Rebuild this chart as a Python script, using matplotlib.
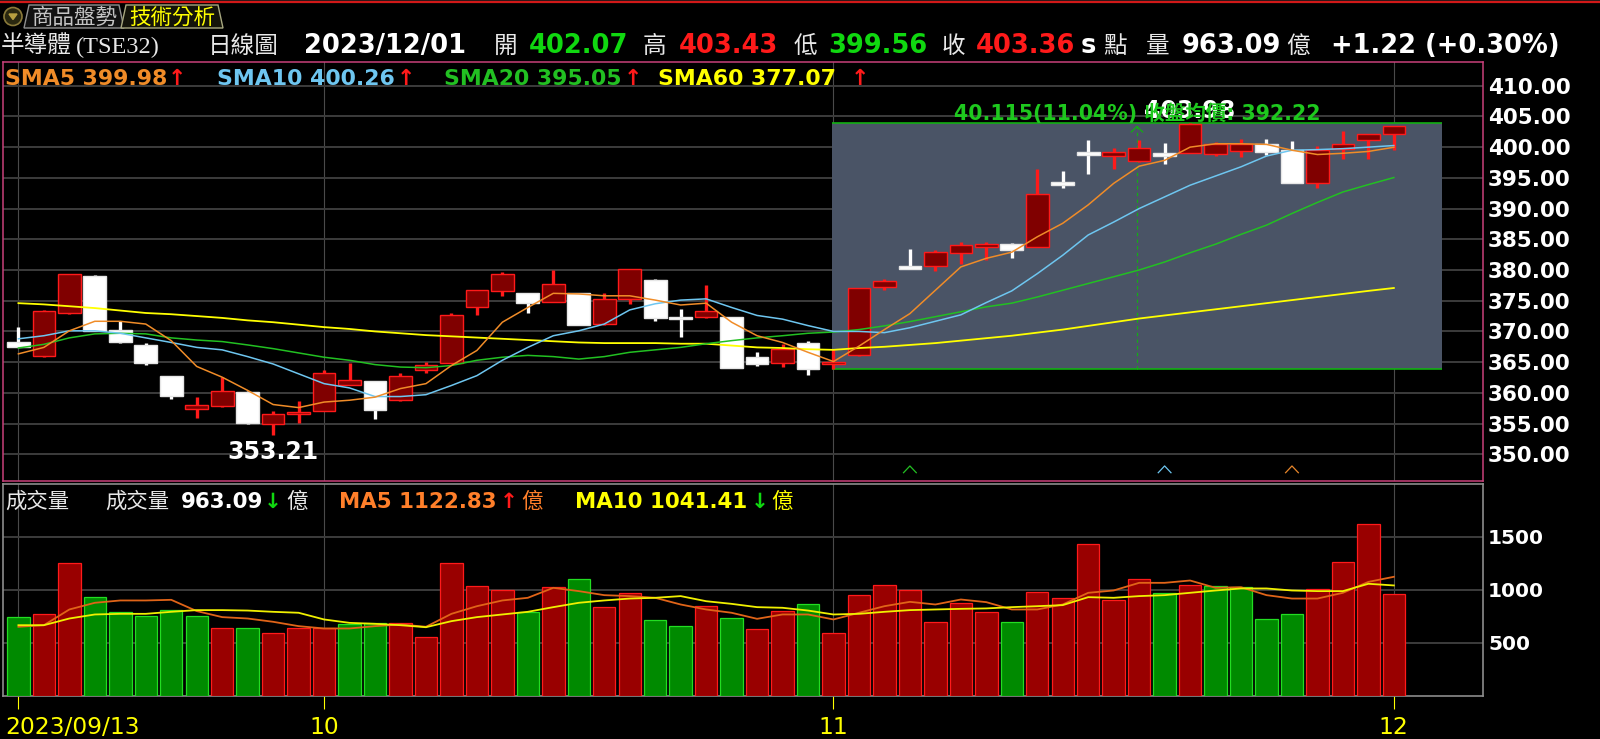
#!/usr/bin/env python3
"""TSE32 semiconductor index daily candles with SMA lines and a volume panel."""

import matplotlib

matplotlib.use("Agg")
import matplotlib.pyplot as plt
from matplotlib.patches import Circle, Polygon, Rectangle

plt.rcParams["font.family"] = ["DejaVu Sans", "Noto Sans CJK TC"]

W, H = 1600, 739

# trading days 2023/09/13 .. 2023/12/01 -> index 0..54
month_idx = [0, 12, 32, 54]
month_labels = ["2023/09/13", "10", "11", "12"]

opens = [368.3, 366.0, 373.0, 379.1, 370.3, 367.8, 362.7, 357.4, 357.9, 360.2,
         355.0, 356.6, 357.1, 361.3, 361.85, 358.8, 363.8, 364.9, 373.9, 376.5,
         376.2, 374.85, 376.2, 371.2, 375.3, 378.4, 372.4, 372.3, 372.3, 365.8,
         364.8, 368.1, 364.7, 366.1, 377.3, 380.7, 380.6, 382.8, 383.8, 384.2,
         383.8, 394.3, 399.2, 398.5, 397.7, 399.0, 399.05, 398.9, 399.3, 400.55,
         399.5, 394.2, 399.75, 401.2, 402.07]
highs = [370.8, 373.5, 379.4, 379.2, 371.7, 368.1, 362.8, 359.25, 362.6, 360.3,
         357.1, 358.75, 363.8, 364.9, 361.9, 363.25, 365.0, 373.0, 376.8, 379.6,
         376.3, 380.0, 376.3, 376.2, 380.2, 378.5, 373.65, 377.6, 372.4, 366.7,
         368.0, 368.4, 367.2, 377.1, 378.6, 383.4, 383.2, 384.6, 384.6, 384.4,
         396.5, 396.1, 401.1, 399.9, 401.2, 400.6, 403.98, 400.8, 401.3, 401.3,
         401.0, 400.2, 402.55, 402.2, 403.43]
lows = [367.4, 365.9, 372.8, 370.0, 368.1, 364.6, 359.0, 355.95, 357.7, 355.0,
        353.21, 355.1, 357.0, 361.2, 355.8, 358.6, 363.2, 364.8, 372.7, 375.7,
        373.0, 374.8, 371.0, 371.1, 374.4, 371.75, 369.05, 372.2, 364.0, 364.35,
        364.2, 362.9, 363.865, 366.0, 376.7, 380.1, 379.9, 381.05, 381.6, 381.9,
        383.7, 393.35, 395.7, 396.4, 397.5, 397.2, 399.0, 398.55, 398.4, 398.7,
        394.1, 393.35, 398.0, 398.0, 399.56]
closes = [367.45, 373.4, 379.35, 370.1, 368.2, 364.9, 359.5, 357.95, 360.3, 355.1,
          356.6, 356.95, 363.3, 362.1, 357.25, 362.8, 364.55, 372.7, 376.75, 379.35,
          374.6, 377.7, 371.1, 375.3, 380.15, 372.2, 372.1, 373.3, 364.1, 364.7,
          367.2, 363.9, 364.95, 377.05, 378.24, 380.13, 382.95, 384.0, 384.3, 383.2,
          392.3, 393.8, 398.8, 399.15, 399.9, 398.6, 403.7, 400.55, 400.5, 399.2,
          394.2, 399.5, 400.45, 402.14, 403.36]

sma5 = [366.35, 367.4, 370.1, 371.65, 371.65, 371.2, 368.5, 364.3, 362.55, 360.4,
        358.1, 357.6, 358.5, 358.8, 359.3, 360.7, 361.5, 364.45, 366.9, 371.5,
        373.9, 376.2, 376.1, 375.8, 375.8, 375.1, 374.3, 374.6, 371.5, 369.3,
        368.2, 366.6, 365.1, 367.6, 370.3, 372.9, 376.7, 380.5, 381.9, 382.9,
        385.4, 387.6, 390.6, 394.1, 396.9, 397.85, 400.0, 400.55, 400.55, 400.45,
        399.5, 398.8, 399.0, 399.3, 399.98]
sma10 = [368.8, 369.3, 370.1, 370.1, 369.7, 368.95, 368.2, 367.4, 367.0, 365.9,
         364.7, 363.1, 361.5, 360.8, 359.4, 359.4, 359.7, 361.2, 362.8, 365.3,
         367.4, 369.3, 370.1, 371.2, 373.5, 374.5, 375.1, 375.3, 373.9, 372.6,
         372.0, 370.95, 370.0, 370.0, 369.8, 370.6, 371.65, 372.7, 374.7, 376.6,
         379.4, 382.4, 385.7, 387.8, 390.0, 391.9, 393.8, 395.3, 396.8, 398.55,
         399.5, 399.6, 399.75, 400.0, 400.26]
sma20 = [367.3, 367.9, 368.95, 369.6, 369.7, 369.6, 368.95, 368.6, 368.35, 367.8,
         367.2, 366.5, 365.8, 365.3, 364.6, 364.2, 364.1, 364.45, 365.3, 365.8,
         366.1, 365.9, 365.5, 365.9, 366.6, 367.0, 367.4, 368.0, 368.5, 368.95,
         369.3, 369.7, 369.9, 370.3, 370.9, 371.6, 372.4, 373.2, 374.0, 374.6,
         375.6, 376.7, 377.8, 378.9, 380.0, 381.3, 382.8, 384.2, 385.8, 387.3,
         389.2, 391.0, 392.7, 393.9, 395.05]
sma60 = [374.6, 374.4, 374.1, 373.8, 373.4, 373.0, 372.8, 372.5, 372.2, 371.8,
         371.5, 371.1, 370.7, 370.4, 370.0, 369.7, 369.4, 369.2, 369.0, 368.8,
         368.6, 368.4, 368.2, 368.1, 368.1, 368.1, 368.0, 368.0, 367.7, 367.4,
         367.3, 367.1, 367.0, 367.3, 367.5, 367.8, 368.1, 368.5, 368.9, 369.3,
         369.8, 370.3, 370.9, 371.5, 372.1, 372.6, 373.1, 373.6, 374.1, 374.6,
         375.1, 375.6, 376.1, 376.6, 377.07]

volumes = [746, 774, 1254, 934, 793, 758, 812, 758, 642, 642,
           595, 645, 636, 674, 683, 683, 557, 1254, 1038, 997,
           793, 1028, 1100, 840, 966, 718, 661, 849, 736, 633,
           805, 862, 595, 953, 1044, 994, 699, 878, 787, 699,
           981, 925, 1433, 906, 1100, 972, 1050, 1038, 1028, 727,
           774, 1010, 1258, 1619, 963.09]
# 1 = red (close above previous close), 0 = green
vol_up = [0, 1, 1, 0, 0, 0, 0, 0, 1, 0,
          1, 1, 1, 0, 0, 1, 1, 1, 1, 1,
          0, 1, 0, 1, 1, 0, 0, 1, 0, 1,
          1, 0, 1, 1, 1, 1, 1, 1, 1, 0,
          1, 1, 1, 1, 1, 0, 1, 0, 0, 0,
          0, 1, 1, 1, 1]
vol_ma5 = [652, 667, 815, 878, 900, 900, 906, 800, 743, 730,
           699, 658, 636, 636, 658, 674, 652, 774, 846, 900,
           925, 1019, 988, 950, 941, 925, 862, 815, 784, 727,
           768, 768, 721, 784, 846, 887, 862, 909, 884, 815,
           815, 862, 972, 994, 1066, 1066, 1088, 1019, 1025, 950,
           918, 918, 972, 1075, 1122.83]
vol_ma10 = [667, 667, 730, 768, 774, 774, 793, 809, 809, 805,
            793, 784, 721, 689, 680, 667, 648, 705, 743, 768,
            793, 837, 878, 900, 918, 925, 941, 893, 868, 837,
            831, 805, 768, 774, 793, 809, 815, 821, 825, 837,
            846, 856, 931, 925, 941, 950, 972, 994, 1013, 1013,
            994, 988, 988, 1057, 1041.41]

# range box drawn over November
box_first, box_last = 32, 54
box_high = 403.98
box_diff = 40.115
box_pct = 11.04
box_avg = 392.22

# small cross markers along the bottom of the price panel
cross_idx = [35, 45, 50]
cross_colors = ["#22c022", "#6ec6f0", "#e8862a"]

price_ticks = [350, 355, 360, 365, 370, 375, 380, 385, 390, 395, 400, 405, 410]
vol_ticks = [500, 1000, 1500]

RED, GREEN, WHITE = "#ff1a1a", "#10d810", "#ffffff"
SMA_COLORS = ["#f08c28", "#6ec6f0", "#22c022", "#ffff00"]


def px_box(left, top, right, bottom):
    return [left / W, 1 - bottom / H, (right - left) / W, (bottom - top) / H]


fig = plt.figure(figsize=(W / 100, H / 100), dpi=100, facecolor="black")
ax = fig.add_axes(px_box(3, 62, 1483, 481), facecolor="black")
axv = fig.add_axes(px_box(3, 484, 1483, 696), facecolor="black")
ov = fig.add_axes([0, 0, 1, 1])
ov.set_xlim(0, W)
ov.set_ylim(H, 0)
ov.axis("off")
ov.set_zorder(10)

xs = list(range(len(closes)))
xlim = (-0.605, 57.5)

# ---- price panel -------------------------------------------------------
ax.set_xlim(*xlim)
ax.set_ylim(345.65, 413.86)

box_low = box_high - box_diff
box_left, box_right = box_first - 0.06, box_last + 1.89
box_mid = (box_left + box_right) / 2
ax.add_patch(Rectangle((box_left, box_low), box_right - box_left, box_diff,
                       facecolor="#4a5466", edgecolor="none", zorder=1))
ax.hlines([box_low, box_high], box_left, box_right, color="#12b012", lw=1.2, zorder=2)
ax.vlines(box_mid, box_low, box_high, color="#12b012", lw=0.8, linestyles=(0, (3, 3)), zorder=2)
ax.plot([box_mid - 0.22, box_mid, box_mid + 0.22], [box_high - 1.5, box_high - 0.6, box_high - 1.5],
        color="#12b012", lw=0.9, zorder=2)

for s, col, lw in zip([sma60, sma20, sma10, sma5], SMA_COLORS[::-1], [1.3, 1.1, 1.1, 1.1]):
    ax.plot(xs, s, color=col, lw=lw, zorder=6)

is_up = [c >= o for o, c in zip(opens, closes)]
heights, bottoms = [], []
for o, c in zip(opens, closes):
    hgt = max(abs(c - o), 0.35)
    bottoms.append((o + c) / 2 - hgt / 2)
    heights.append(hgt)
ax.vlines(xs, lows, highs, colors=[RED if u else WHITE for u in is_up], lw=2.4, zorder=4)
ax.bar(xs, heights, bottom=bottoms, width=0.89,
       color=["#800000" if u else WHITE for u in is_up],
       edgecolor=[RED if u else "#e6e6e6" for u in is_up], linewidth=1.0, zorder=5)

for i, col in zip(cross_idx, cross_colors):
    ax.plot([i - 0.25, i, i + 0.25], [347.0, 348.1, 347.0], color=col, lw=0.9, zorder=6)

i_max = highs.index(max(highs))
i_min = lows.index(min(lows))
ax.annotate(f"{highs[i_max]:.2f}", (i_max, highs[i_max]), xytext=(0, 3.2), textcoords="offset points",
            ha="center", va="baseline", color=WHITE, fontsize=17, fontweight="bold", zorder=7)
ax.annotate(f"{lows[i_min]:.2f}", (i_min, lows[i_min]), xytext=(0, -17.4), textcoords="offset points",
            ha="center", va="baseline", color=WHITE, fontsize=17, fontweight="bold", zorder=7)
ax.annotate(f"{box_diff:.3f}({box_pct:.2f}%) 收盤均價: {box_avg:.2f}", (box_mid, box_high),
            xytext=(0, 2), textcoords="offset points", ha="center", va="baseline",
            color="#1ec81e", fontsize=14.8, fontweight="bold", zorder=8)

ax.set_xticks(month_idx)
ax.tick_params(axis="x", length=0, labelbottom=False)
ax.yaxis.tick_right()
ax.set_yticks(price_ticks, [f"{v:.2f}" for v in price_ticks],
              fontsize=15.5, fontweight="bold", color=WHITE)
ax.tick_params(axis="y", length=0, pad=3.6)
for sp in ax.spines.values():
    sp.set_color("#c8407a")
    sp.set_linewidth(1.1)

# ---- volume panel ------------------------------------------------------
axv.set_xlim(*xlim)
axv.set_ylim(0, 1997)
axv.bar(xs, volumes, width=0.88,
        color=["#990000" if u else "#008a00" for u in vol_up],
        edgecolor=["#ff1a1a" if u else "#22dd22" for u in vol_up], linewidth=0.9, zorder=3)
axv.plot(xs, vol_ma5, color="#e06418", lw=1.3, zorder=4)
axv.plot(xs, vol_ma10, color="#f0f000", lw=1.3, zorder=4)

axv.set_xticks(month_idx)
axv.tick_params(axis="x", length=9.3, width=0.8, color="#ffff00", labelbottom=False)
axv.yaxis.tick_right()
axv.set_yticks(vol_ticks, [str(v) for v in vol_ticks], fontsize=14.5, fontweight="bold", color=WHITE)
axv.tick_params(axis="y", length=0, pad=3.6)
for sp in axv.spines.values():
    sp.set_color("#8c8c8c")
    sp.set_linewidth(1.2)

for i, lab in zip(month_idx, month_labels):
    first = i == month_idx[0]
    axv.annotate(lab, xy=(i, 0), xycoords=("data", "axes fraction"),
                 xytext=(-9.6 if first else 0, -27.6), textcoords="offset points",
                 ha="left" if first else "center", va="baseline",
                 color="#ffff00", fontsize=16.8, annotation_clip=False)

for a in (ax, axv):
    a.set_axisbelow(True)
    a.grid(axis="y", color="#3c3c3c", linewidth=1.4)
    a.grid(axis="x", color="#4a4a4a", linewidth=0.8)


# ---- header and legends (pixel coordinates) ----------------------------
def put(x, y, s, color, size, weight="normal", family=None):
    kw = {"family": family} if family else {}
    ov.text(x, y, s, color=color, fontsize=size, fontweight=weight, ha="left", va="baseline", **kw)


def arrow(vals):
    return ("↑", RED) if vals[-1] >= vals[-2] else ("↓", GREEN)


CJK = ["Noto Sans CJK TC", "DejaVu Sans"]
SERIF = ["Liberation Serif", "Noto Sans CJK TC"]
LIGHT = "#e8e8e8"

ov.plot([0, W], [0.6, 0.6], color="#808080", lw=1.0)
ov.plot([0, W], [2.4, 2.4], color="#d01818", lw=1.6)
ov.add_patch(Circle((13, 16.5), 9, facecolor="#2a2810", edgecolor="#8a7a3a", lw=1.2))
ov.add_patch(Polygon([(9, 14), (17, 14), (13, 19.5)], closed=True, color="#b8a040"))
ov.add_patch(Polygon([(24, 28), (29, 5), (119, 5), (124, 28)], closed=True,
                     facecolor="#111111", edgecolor="#909090", lw=1.0))
ov.add_patch(Polygon([(121, 28), (126, 5), (218, 5), (223, 28)], closed=True,
                     facecolor="#14140a", edgecolor="#a8a880", lw=1.0))
put(32, 24, "商品盤勢", "#c4c4c4", 15.5, family=CJK)
put(129, 24, "技術分析", "#ffff00", 15.5, family=CJK)

last = len(closes) - 1
chg = closes[last] - closes[last - 1]
pct = chg / closes[last - 1] * 100
BASE = 53
put(1, BASE, "半導體", LIGHT, 17, family=CJK)
put(76, BASE, "(TSE32)", LIGHT, 17.5, family=SERIF)
put(208, BASE, "日線圖", LIGHT, 17, family=CJK)
put(304, BASE, "2023/12/01", WHITE, 18.5, "bold")
put(494, BASE, "開", LIGHT, 17, family=CJK)
put(529, BASE, f"{opens[last]:.2f}", GREEN, 18.5, "bold")
put(643, BASE, "高", LIGHT, 17, family=CJK)
put(679, BASE, f"{highs[last]:.2f}", RED, 18.5, "bold")
put(794, BASE, "低", LIGHT, 17, family=CJK)
put(828, BASE, f"{lows[last]:.2f}", GREEN, 18.5, "bold")
put(942, BASE, "收", LIGHT, 17, family=CJK)
put(976, BASE, f"{closes[last]:.2f}", RED, 18.5, "bold")
put(1081, BASE, "s", WHITE, 18.5, "bold")
put(1103, BASE, "點", LIGHT, 17, family=CJK)
put(1146, BASE, "量", LIGHT, 17, family=CJK)
put(1182, BASE, f"{volumes[last]:.2f}", WHITE, 18.5, "bold")
put(1286, BASE, "億", LIGHT, 17, family=CJK)
put(1331, BASE, f"{chg:+.2f} ({pct:+.2f}%)", WHITE, 18.5, "bold")

SBASE = 85
sma_x = [(5, 168), (217, 397), (444, 624), (658, 851)]
for (tx, axx), name, s, col in zip(sma_x, ["SMA5", "SMA10", "SMA20", "SMA60"],
                                   [sma5, sma10, sma20, sma60], SMA_COLORS):
    put(tx, SBASE, f"{name} {s[-1]:.2f}", col, 15.8, "bold")
    a, acol = arrow(s)
    put(axx, SBASE, a, acol, 15.8, "bold")

VBASE = 508
put(5, VBASE, "成交量", LIGHT, 15.4, family=CJK)
put(105, VBASE, "成交量", LIGHT, 15.4, family=CJK)
put(181, VBASE, f"{volumes[-1]:.2f}", WHITE, 15.4, "bold")
a, acol = arrow(volumes)
put(264, VBASE, a, acol, 15.4, "bold")
put(286, VBASE, "億", LIGHT, 15.4, family=CJK)
put(339, VBASE, f"MA5 {vol_ma5[-1]:.2f}", "#ff7f2a", 15.4, "bold")
a, acol = arrow(vol_ma5)
put(500, VBASE, a, acol, 15.4, "bold")
put(521, VBASE, "億", "#ff7f2a", 15.4, family=CJK)
put(575, VBASE, f"MA10 {vol_ma10[-1]:.2f}", "#ffff00", 15.4, "bold")
a, acol = arrow(vol_ma10)
put(751, VBASE, a, acol, 15.4, "bold")
put(771, VBASE, "億", "#ffff00", 15.4, family=CJK)

fig.savefig("out.png", dpi=100, facecolor="black")
